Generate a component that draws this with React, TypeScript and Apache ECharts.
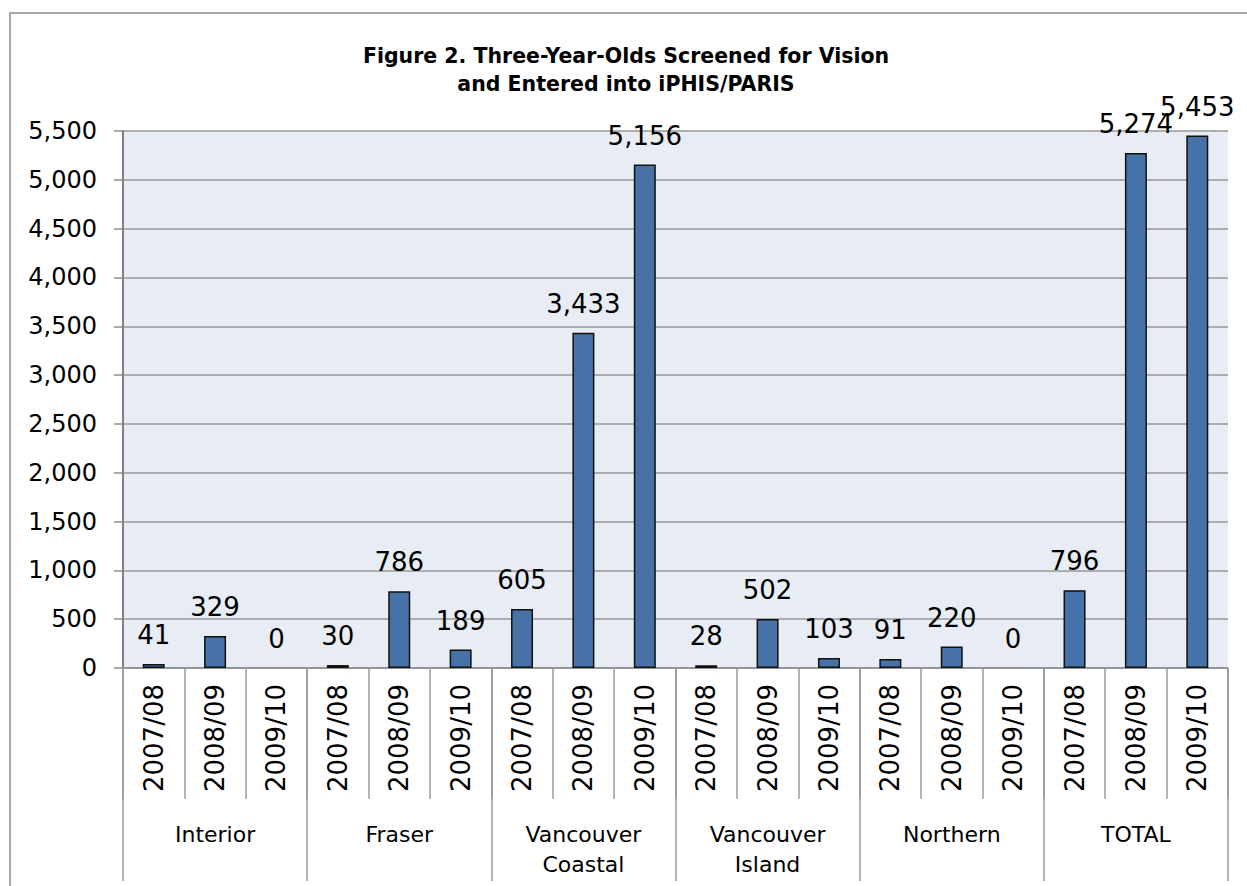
import React, { useEffect, useRef } from "react";
import * as echarts from "echarts";

const years = [
  "2007/08", "2008/09", "2009/10",
  "2007/08", "2008/09", "2009/10",
  "2007/08", "2008/09", "2009/10",
  "2007/08", "2008/09", "2009/10",
  "2007/08", "2008/09", "2009/10",
  "2007/08", "2008/09", "2009/10",
];
const regions = ["Interior", "Fraser", "Vancouver\nCoastal", "Vancouver\nIsland", "Northern", "TOTAL"];
const values = [41, 329, 0, 30, 786, 189, 605, 3433, 5156, 28, 502, 103, 91, 220, 0, 796, 5274, 5453];
const titleLines = ["Figure 2. Three-Year-Olds Screened for Vision", "and Entered into iPHIS/PARIS"];

const FONT = "DejaVu Sans";

export default function App() {
  const ref = useRef<HTMLDivElement>(null);
  useEffect(() => {
    if (!ref.current) return;
    const chart = echarts.init(ref.current, null, { renderer: "svg" });
    chart.setOption({
      animation: false,
      backgroundColor: "#ffffff",
      textStyle: { fontFamily: FONT },
      title: {
        text: titleLines.join("\n"),
        left: 621,
        textAlign: "center",
        top: 37,
        textStyle: { fontFamily: FONT, fontWeight: "bold", fontSize: 20.5, lineHeight: 28, color: "#000" },
      },
      graphic: [
        {
          type: "rect",
          shape: { x: 10, y: 13, width: 1400, height: 1000 },
          style: { fill: "none", stroke: "#8a8a8a", lineWidth: 1.5 },
          silent: true,
          z: -1,
        },
      ],
      grid: {
        left: 123,
        right: 19,
        top: 131,
        bottom: 218,
        show: true,
        backgroundColor: "#e8ecf4",
        borderWidth: 0,
      },
      xAxis: [
        {
          type: "category",
          data: years,
          position: "bottom",
          axisLine: { show: true, lineStyle: { color: "#8c8c8c", width: 1.5 } },
          axisTick: { show: true, interval: 0, length: 131, lineStyle: { color: "#9a9a9a", width: 1.5 } },
          axisLabel: {
            interval: 0,
            rotate: 90,
            margin: 16,
            fontFamily: FONT,
            fontSize: 26,
            color: "#000",
          },
        },
        {
          type: "category",
          data: regions,
          position: "bottom",
          axisLine: { show: false },
          axisTick: { show: true, interval: 0, length: 213, lineStyle: { color: "#9a9a9a", width: 1.5 } },
          axisLabel: {
            interval: 0,
            margin: 151,
            fontFamily: FONT,
            fontSize: 22,
            lineHeight: 30,
            color: "#000",
          },
        },
      ],
      yAxis: {
        type: "value",
        min: 0,
        max: 5500,
        interval: 500,
        axisLine: { show: true, lineStyle: { color: "#808080", width: 2 } },
        axisTick: { show: true, length: 9, lineStyle: { color: "#8c8c8c", width: 1.5 } },
        splitLine: { show: true, lineStyle: { color: "#979797", width: 1.5 } },
        axisLabel: {
          margin: 26,
          fontFamily: FONT,
          fontSize: 24,
          color: "#000",
          formatter: (v: number) => v.toLocaleString("en-US"),
        },
      },
      series: [
        {
          type: "bar",
          data: values.map((v) => (v === 0 ? { value: v, itemStyle: { borderWidth: 0 } } : v)),
          xAxisIndex: 0,
          yAxisIndex: 0,
          barWidth: 22,
          itemStyle: { color: "#4672a8", borderColor: "#111", borderWidth: 1.5 },
          label: {
            show: true,
            position: "top",
            distance: 16,
            fontFamily: FONT,
            fontSize: 26,
            color: "#000",
            formatter: (p: any) => Number(p.value).toLocaleString("en-US"),
          },
        },
      ],
    });
    return () => chart.dispose();
  }, []);
  return (
    <div
      ref={ref}
      style={{ position: "absolute", left: 0, top: 0, width: 1247, height: 886 }}
    />
  );
}
